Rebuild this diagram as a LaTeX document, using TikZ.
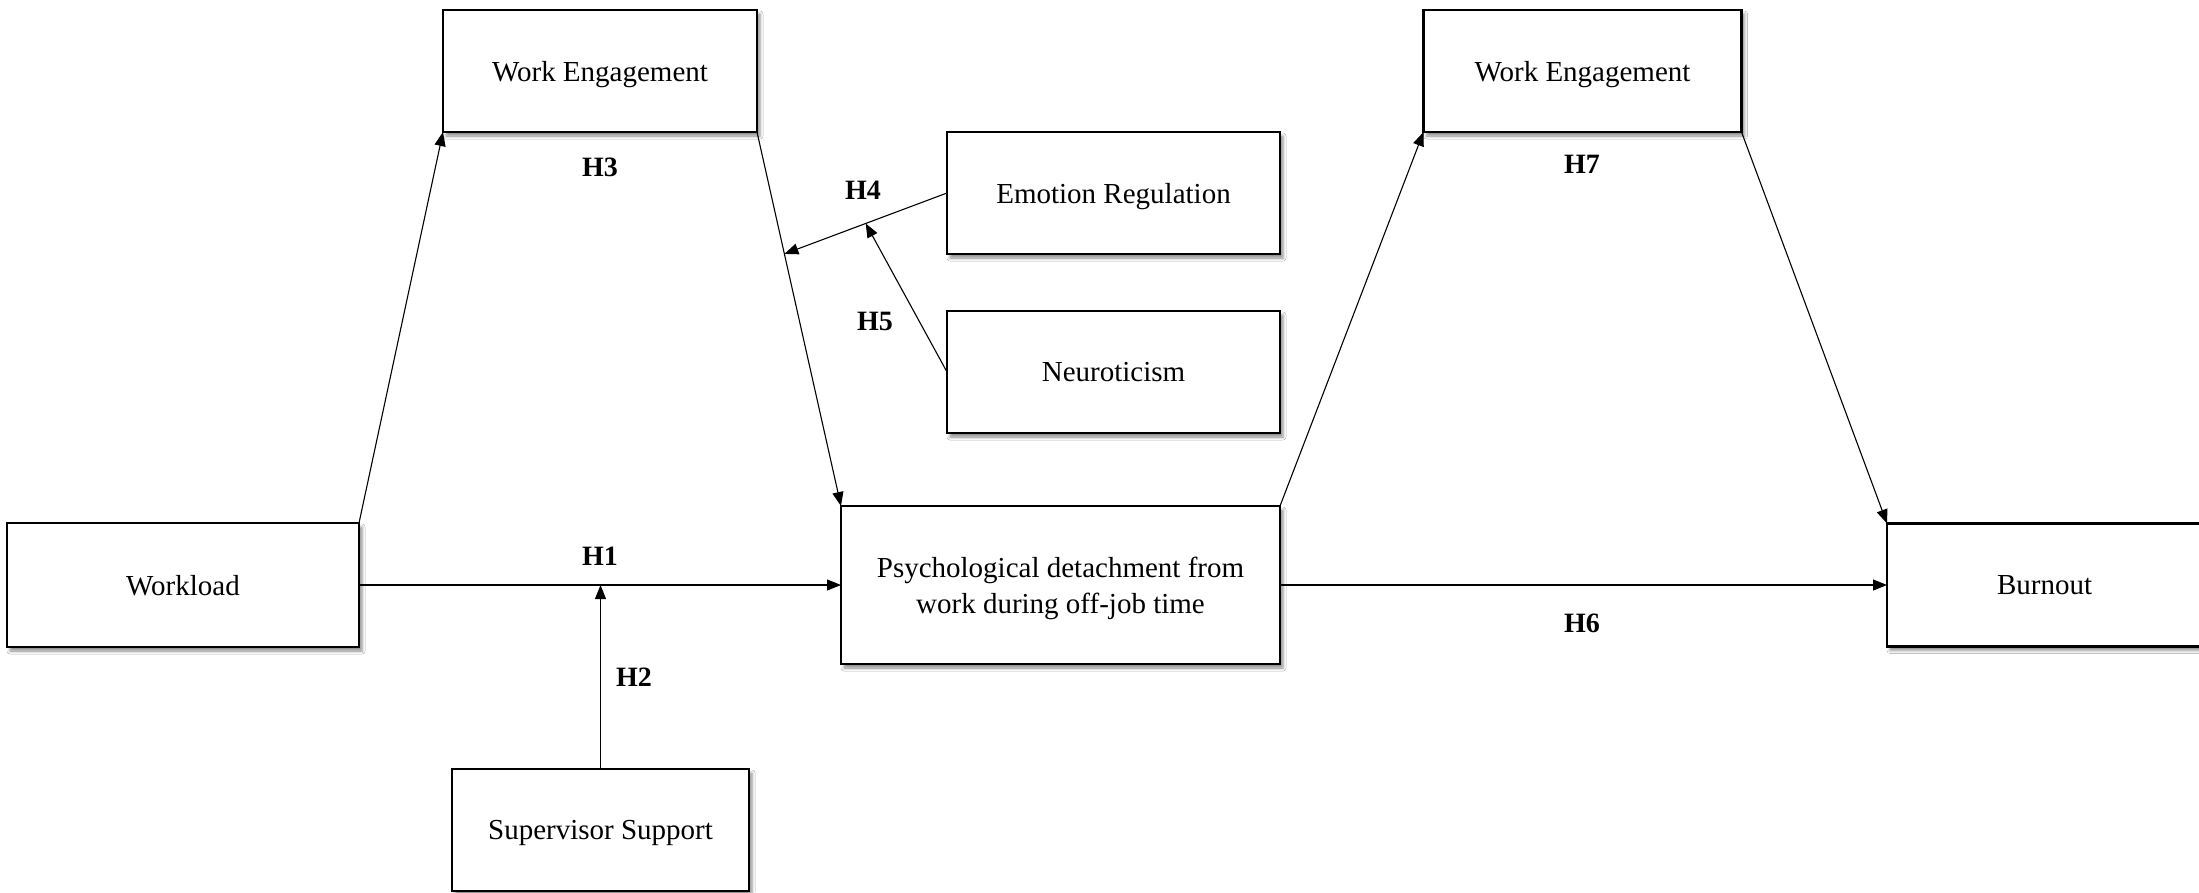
\documentclass[tikz,border=0pt]{standalone}
\usepackage{fontspec}
\setmainfont{Liberation Serif}
\usetikzlibrary{arrows.meta,calc,shadows.blur}
\begin{document}
\begin{tikzpicture}[x=1pt,y=-1pt,
  box/.style={draw=black, line width=2.2pt, fill=white, outer sep=0pt, inner sep=0pt,
    align=center, font=\fontsize{29}{36}\selectfont, text depth=0pt,
    blur shadow={shadow xshift=3pt, shadow yshift=-4pt, shadow blur radius=3pt, shadow opacity=45}},
  conn/.style={draw=black, line width=1.1pt, -{Triangle[length=14pt,width=11pt]}},
  hlab/.style={font=\fontsize{28}{34}\selectfont\bfseries, inner sep=0pt}]
\clip (0,0) rectangle (2199,892);
\fill[white] (0,0) rectangle (2199,892);
% boxes
\node[box, minimum width=314pt, minimum height=122pt] (we1) at (600,71) {Work Engagement};
\node[box, minimum width=333pt, minimum height=122pt] (er) at (1113.5,193) {Emotion Regulation};
\node[box, minimum width=333pt, minimum height=122pt] (neu) at (1113.5,372) {Neuroticism};
\node[box, minimum width=318pt, minimum height=122pt] (we2) at (1582.5,71) {Work Engagement};
\node[box, minimum width=352pt, minimum height=124pt] (wl) at (183,585) {Workload};
\node[box, minimum width=439pt, minimum height=158pt] (pd) at (1060.5,585) {Psychological detachment from\\work during off-job time};
\node[box, minimum width=315pt, minimum height=123pt] (bo) at (2044.5,585) {Burnout};
\node[box, minimum width=297pt, minimum height=122pt] (ss) at (600.5,830) {Supervisor Support};
% helper coordinates on connectors
\coordinate (m1) at ($(we1.south east)!0.326!(pd.north west)$);
\coordinate (m2) at ($(er.west)!0.5!(m1)$);
\coordinate (m3) at ($(wl.east)!0.5!(pd.west)$);
% connectors
\draw[conn] (wl.north east) -- (we1.south west);
\draw[conn] (we1.south east) -- (pd.north west);
\draw[conn] (er.west) -- (m1);
\draw[conn] (neu.west) -- (m2);
\draw[conn] (wl.east) -- (pd.west);
\draw[conn] (ss.north) -- (ss.north |- m3);
\draw[conn] (pd.north east) -- (we2.south west);
\draw[conn] (we2.south east) -- (bo.north west);
\draw[conn] (pd.east) -- (bo.west);
% labels
\node[hlab] (h3) at (600,167) {H3};
\node[hlab] (h4) at (863,190) {H4};
\node[hlab] (h5) at (875,321) {H5};
\node[hlab] (h1) at (600,556) {H1};
\node[hlab] (h2) at (634,677) {H2};
\node[hlab] (h7) at (1582,164) {H7};
\node[hlab] (h6) at (1582,623) {H6};
\end{tikzpicture}
\end{document}
